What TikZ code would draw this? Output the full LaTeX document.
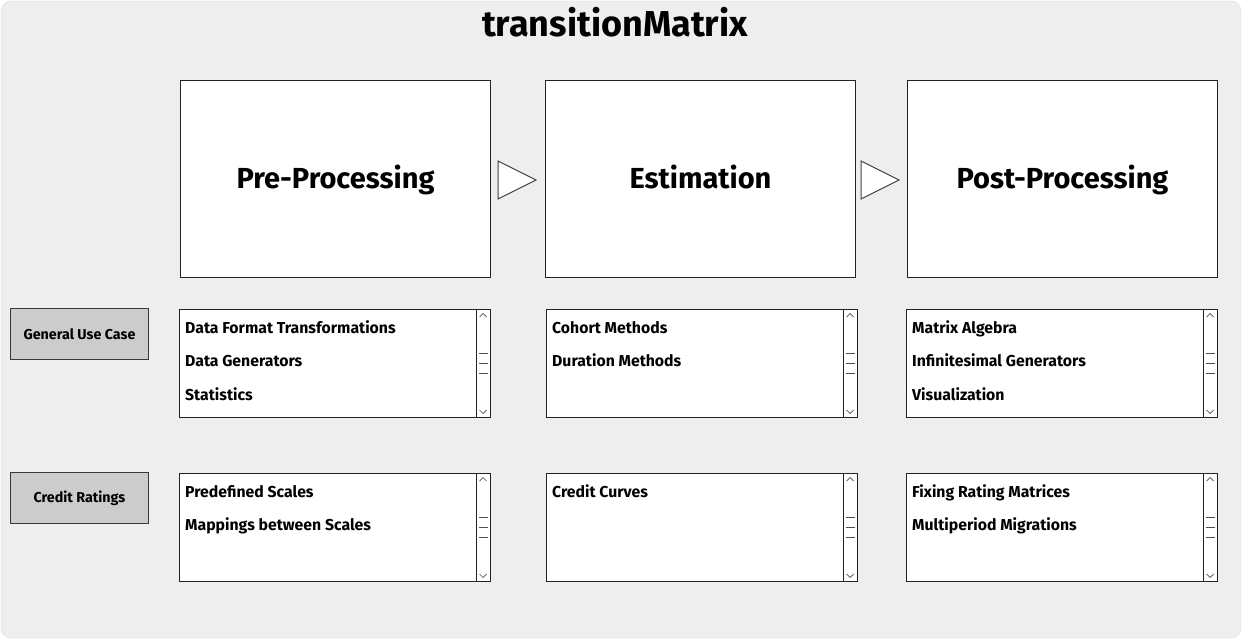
\documentclass[tikz,border=0pt]{standalone}
\usepackage{fontspec}
\setmainfont{Fira Sans}
\definecolor{bgc}{HTML}{EEEEEE}
\definecolor{bgline}{HTML}{DDDDDD}
\definecolor{lblc}{HTML}{CCCCCC}
\definecolor{inkc}{HTML}{222222}
\newcommand\mylistbox[3]{%
  \node[lbox, anchor=north west] (#1) at (#2) {};
  \draw[sbline] ([xshift=-15pt]#1.north east) -- ([xshift=-15pt]#1.south east);
  \draw[sbthin] ([xshift=-11.5pt,yshift=-8pt]#1.north east) -- ++(3.5pt,3.5pt) -- ++(3.5pt,-3.5pt);
  \draw[sbthin] ([xshift=-11.5pt,yshift=8pt]#1.south east) -- ++(3.5pt,-3.5pt) -- ++(3.5pt,3.5pt);
  \foreach \dy in {-10,0,10}{\draw[sbthin] ([xshift=-12pt,yshift=\dy pt]#1.east) -- ++(9pt,0pt);}
  \foreach \t [count=\i] in {#3}{\node[item, anchor=base west] (#1-\i) at ([xshift=6pt,yshift={-24pt-(\i-1)*33.5pt}]#1.north west) {\t};}
}
\begin{document}
\begin{tikzpicture}[x=1pt,y=-1pt,
  bigbox/.style={draw=inkc,fill=white,line width=1pt,minimum width=310pt,minimum height=197pt,inner sep=0pt,text height=24pt,text depth=4pt,anchor=north west,font=\bfseries\fontsize{29}{34}\selectfont},
  lbox/.style={draw=inkc,fill=white,line width=1pt,minimum width=311pt,minimum height=108pt,inner sep=0pt},
  sbline/.style={draw=inkc,line width=0.9pt},
  sbthin/.style={draw=inkc!80,line width=0.7pt},
  item/.style={inner sep=0pt,font=\bfseries\fontsize{15.8}{18}\selectfont},
  lbl/.style={draw=inkc!90,fill=lblc,line width=1pt,minimum width=138pt,minimum height=51pt,inner sep=0pt,anchor=north west,font=\bfseries\fontsize{14.3}{17}\selectfont},
  tri/.style={draw=inkc!85,fill=white,line width=1pt,line join=miter}]
\useasboundingbox (0,0) rectangle (1242,639);
\fill[bgc,draw=bgline,rounded corners=10pt] (1,1) rectangle (1241,638);
\node[font=\bfseries\fontsize{36}{40}\selectfont] (title) at (615,22) {transitionMatrix};
\node[bigbox] (pre) at (180,80) {Pre-Processing};
\node[bigbox] (est) at (545,80) {Estimation};
\node[bigbox] (post) at (907,80) {Post-Processing};
\draw[tri] (498,161) -- (536,180) -- (498,199) -- cycle;
\draw[tri] (861,161) -- (899,180) -- (861,199) -- cycle;
\node[lbl] (gen) at (10,308) {General Use Case};
\node[lbl] (cred) at (10,472) {Credit Ratings};
\mylistbox{l11}{179,309}{Data Format Transformations,Data Generators,Statistics}
\mylistbox{l12}{546,309}{Cohort Methods,Duration Methods}
\mylistbox{l13}{906,309}{Matrix Algebra,Infinitesimal Generators,Visualization}
\mylistbox{l21}{179,473}{Predefined Scales,Mappings between Scales}
\mylistbox{l22}{546,473}{Credit Curves}
\mylistbox{l23}{906,473}{Fixing Rating Matrices,Multiperiod Migrations}
\end{tikzpicture}
\end{document}
